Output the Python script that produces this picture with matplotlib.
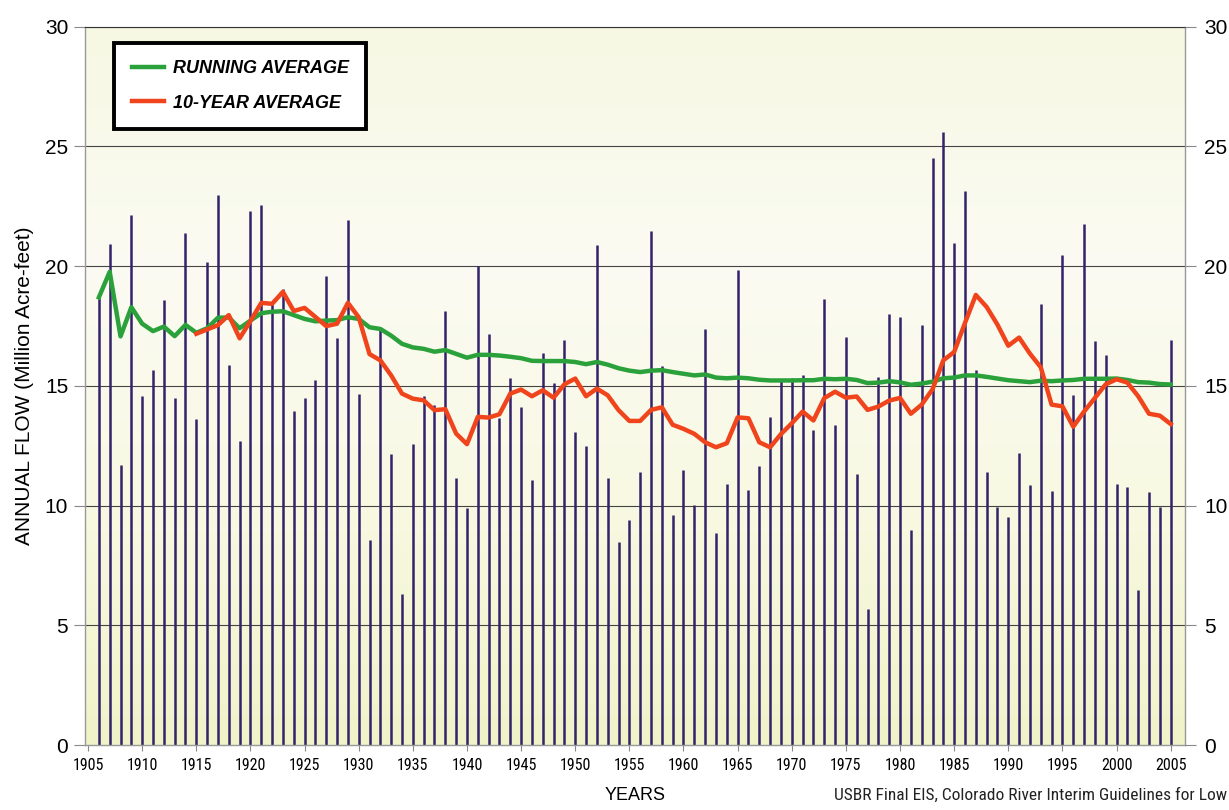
import numpy as np
import matplotlib.pyplot as plt
from matplotlib import font_manager
from matplotlib.colors import LinearSegmentedColormap

# Annual flow, million acre-feet, 1906-2005
years = list(range(1906, 2006))
annual_flow = [
    18.66, 20.92, 11.68, 22.15, 14.57, 15.66, 18.60, 14.50, 21.38, 13.61,
    20.17, 22.97, 15.87, 12.69, 22.30, 22.55, 18.49, 19.03, 13.95, 14.50,
    15.24, 19.61, 17.00, 21.93, 14.67, 8.55, 17.35, 12.16, 6.30, 12.58,
    14.58, 14.21, 18.11, 11.17, 9.90, 20.03, 17.17, 13.66, 15.33, 14.13,
    11.07, 16.39, 15.13, 16.92, 13.09, 12.49, 20.90, 11.17, 8.49, 9.41,
    11.42, 21.45, 15.83, 9.60, 11.49, 10.02, 17.37, 8.84, 10.89, 19.85,
    10.65, 11.64, 13.72, 15.23, 15.35, 15.47, 13.17, 18.64, 13.39, 17.05,
    11.31, 5.70, 15.39, 17.99, 17.89, 9.00, 17.55, 24.50, 25.60, 20.95,
    23.16, 15.66, 11.41, 9.96, 9.52, 12.20, 10.85, 18.43, 10.62, 20.46,
    14.64, 21.75, 16.88, 16.28, 10.90, 10.79, 6.50, 10.58, 9.96, 16.93,
]

running_avg = [
    18.70, 19.77, 17.07, 18.29, 17.60, 17.29, 17.48, 17.08, 17.55, 17.22,
    17.41, 17.85, 17.86, 17.41, 17.73, 18.04, 18.10, 18.12, 17.96, 17.80,
    17.70, 17.73, 17.75, 17.87, 17.80, 17.45, 17.38, 17.10, 16.76, 16.61,
    16.55, 16.43, 16.50, 16.34, 16.18, 16.30, 16.30, 16.27, 16.22, 16.16,
    16.05, 16.04, 16.04, 16.04, 16.00, 15.91, 16.00, 15.89, 15.74, 15.64,
    15.58, 15.64, 15.66, 15.58, 15.51, 15.44, 15.48, 15.35, 15.32, 15.35,
    15.32, 15.26, 15.23, 15.23, 15.23, 15.24, 15.24, 15.30, 15.28, 15.30,
    15.25, 15.12, 15.14, 15.20, 15.15, 15.05, 15.10, 15.18, 15.32, 15.35,
    15.44, 15.44, 15.38, 15.31, 15.24, 15.20, 15.16, 15.22, 15.20, 15.23,
    15.25, 15.30, 15.30, 15.30, 15.31, 15.25, 15.16, 15.14, 15.08, 15.06,
]

ten_yr_years = list(range(1915, 2006))
ten_yr_avg = [
    17.18, 17.36, 17.54, 17.96, 16.99, 17.71, 18.47, 18.43, 18.93, 18.13,
    18.26, 17.88, 17.50, 17.60, 18.47, 17.87, 16.33, 16.07, 15.44, 14.68,
    14.47, 14.40, 13.99, 14.03, 13.01, 12.57, 13.71, 13.68, 13.82, 14.68,
    14.85, 14.57, 14.82, 14.51, 15.07, 15.31, 14.57, 14.89, 14.61, 13.99,
    13.54, 13.54, 14.00, 14.11, 13.38, 13.21, 13.00, 12.65, 12.44, 12.61,
    13.69, 13.65, 12.65, 12.44, 12.99, 13.44, 13.93, 13.56, 14.49, 14.76,
    14.51, 14.56, 14.00, 14.14, 14.39, 14.50, 13.84, 14.22, 14.86, 16.07,
    16.42, 17.63, 18.80, 18.30, 17.56, 16.68, 17.02, 16.35, 15.78, 14.22,
    14.15, 13.30, 13.93, 14.50, 15.07, 15.28, 15.14, 14.57, 13.84, 13.76,
    13.41,
]

x_ticks = list(range(1905, 2010, 5))
y_ticks = [0, 5, 10, 15, 20, 25, 30]

# pick a condensed face if one is installed
installed = {f.name for f in font_manager.fontManager.ttflist}
narrow_name = None
for cand in ['Liberation Sans Narrow', 'DejaVu Sans Condensed', 'Roboto Condensed', 'Open Sans Condensed']:
    if cand in installed:
        narrow_name = cand
        break
narrow = [narrow_name, 'DejaVu Sans'] if narrow_name else ['Liberation Sans', 'DejaVu Sans']
plain = ['Liberation Sans', 'DejaVu Sans']

fig = plt.figure(figsize=(12.29, 8.1), dpi=100)
ax = fig.add_axes([0.069, 0.080, 0.895, 0.887])

# pale yellow gradient background of the plot area
cmap = LinearSegmentedColormap.from_list('bg', ['#f0f3c8', '#f7f9e2', '#fbfbf3', '#f7f8e3'])
grad = np.linspace(0, 1, 256).reshape(-1, 1)
ax.imshow(grad, extent=[0, 1, 0, 1], transform=ax.transAxes, aspect='auto',
          cmap=cmap, origin='lower', zorder=0)

for yv in y_ticks[1:]:
    ax.axhline(yv, color='#444444', linewidth=0.8, zorder=1)

ax.vlines(years, 0, annual_flow, color='#33226a', linewidth=1.8, zorder=2)
ax.plot(years, running_avg, color='#2aa13a', linewidth=3.2, zorder=3,
        label='RUNNING AVERAGE')
ax.plot(ten_yr_years, ten_yr_avg, color='#f0441c', linewidth=3.2, zorder=4,
        label='10-YEAR AVERAGE')

ax.set_xlim(1904.7, 2006.3)
ax.set_ylim(0, 30)
ax.set_xticks(x_ticks)
ax.set_xticklabels([str(v) for v in x_ticks], family=narrow, fontsize=11.5)
ax.set_yticks(y_ticks)
ax.set_yticklabels([str(v) for v in y_ticks], family=plain, fontsize=15)
ax.tick_params(axis='x', length=4, color='#888888', pad=5)
ax.tick_params(axis='y', length=8, color='#888888', pad=4)

for side in ['left', 'right', 'bottom']:
    ax.spines[side].set_color('#999999')
    ax.spines[side].set_linewidth(1.0)
ax.spines['top'].set_color('#333333')

ax2 = ax.twinx()
ax2.set_ylim(0, 30)
ax2.set_yticks(y_ticks)
ax2.set_yticklabels([str(v) for v in y_ticks], family=plain, fontsize=15)
ax2.tick_params(axis='y', length=8, color='#888888', pad=6)
for side in ['left', 'right', 'top', 'bottom']:
    ax2.spines[side].set_visible(False)

ax.set_ylabel('ANNUAL FLOW (Million Acre-feet)', family=plain, fontsize=15, labelpad=8)

leg = ax.legend(loc='upper left', bbox_to_anchor=(0.027, 0.977), fancybox=False,
                framealpha=1.0, edgecolor='black', handlelength=1.8,
                handletextpad=0.5, borderpad=0.95, labelspacing=0.95, borderaxespad=0,
                prop={'family': plain, 'size': 13, 'weight': 'bold', 'style': 'italic'})
leg.get_frame().set_linewidth(2.8)
leg.set_zorder(10)

fig.text(0.517, 0.012, 'YEARS', family=plain, fontsize=13, ha='center')
fig.text(0.998, 0.012, 'USBR Final EIS, Colorado River Interim Guidelines for Low',
         family=narrow, fontsize=12.5 if narrow_name else 11, ha='right', color='#222222')

fig.savefig('out.png', dpi=100, facecolor='white')
